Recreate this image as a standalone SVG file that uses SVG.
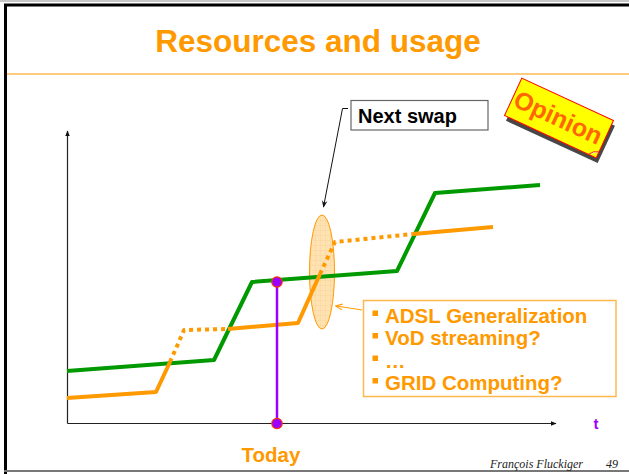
<svg xmlns="http://www.w3.org/2000/svg" width="629" height="474" viewBox="0 0 629 474">
  <defs>
    <style>
      .title { font-family: "Liberation Sans", Arial, sans-serif; font-weight: bold; font-size: 31.5px; fill: #FF9900; }
      .bold { font-family: "Liberation Sans", Arial, sans-serif; font-weight: bold; }
      .orange { fill: #FF9900; }
      .item { font-size: 20.5px; }
      .foot { font-family: "Liberation Serif", "Times New Roman", serif; font-style: italic; font-size: 12px; fill: #222; }
      .axis { stroke: #222; stroke-width: 1.2; fill: none; }
      .green { stroke: #009900; stroke-width: 4; fill: none; stroke-linejoin: round; }
      .usage { stroke: #FF9900; stroke-width: 4; fill: none; stroke-linejoin: round; }
      .dotted { stroke-dasharray: 4 4; }
      .dot { fill: #9900FF; stroke: #FF3300; stroke-width: 1.2; }
    </style>
    <marker id="axisHead" viewBox="0 0 10 10" refX="9" refY="5" markerWidth="6" markerHeight="6" orient="auto" markerUnits="userSpaceOnUse">
      <path d="M0,1 L10,5 L0,9 Z" fill="#111"/>
    </marker>
    <marker id="blackHead" viewBox="0 0 10 10" refX="9" refY="5" markerWidth="7" markerHeight="7" orient="auto" markerUnits="userSpaceOnUse">
      <path d="M0,1 L10,5 L0,9 L3,5 Z" fill="#111"/>
    </marker>
    <marker id="orangeHead" viewBox="0 0 10 10" refX="9" refY="5" markerWidth="7" markerHeight="7" orient="auto" markerUnits="userSpaceOnUse">
      <path d="M0,1 L10,5 L0,9" fill="none" stroke="#FF9900" stroke-width="1.5"/>
    </marker>
    <pattern id="grid" width="5" height="5" patternUnits="userSpaceOnUse">
      <rect width="5" height="5" fill="#FFE2B2"/>
      <path d="M0,0 H5 M0,0 V5" stroke="#F7C98C" stroke-width="0.6"/>
    </pattern>
  </defs>

  <!-- slide frame -->
  <rect width="629" height="474" fill="#FFFFFF"/>
  <line x1="0" y1="1" x2="629" y2="1" stroke="#C8C8C8" stroke-width="2"/>
  <path d="M5.5,474 V5 H629" fill="none" stroke="#000" stroke-width="3"/>
  <line x1="4" y1="471" x2="629" y2="471" stroke="#777" stroke-width="2"/>

  <!-- title -->
  <g id="title">
    <text class="title" x="318" y="52" text-anchor="middle">Resources and usage</text>
    <line x1="7" y1="74" x2="629" y2="74" stroke="#FF9900" stroke-width="1.2"/>
  </g>

  <!-- axes -->
  <g id="axes">
    <line class="axis" x1="67.5" y1="423.5" x2="67.5" y2="131" marker-end="url(#axisHead)"/>
    <line class="axis" x1="67.5" y1="423.5" x2="556" y2="423.5" marker-end="url(#axisHead)"/>
    <text class="bold" x="596" y="429" font-size="15" fill="#9900FF" text-anchor="middle">t</text>
  </g>

  <!-- highlighted swap zone -->
  <g id="swap-zone">
    <ellipse cx="322" cy="272" rx="12.5" ry="57" fill="url(#grid)" stroke="#FF9900" stroke-width="1"/>
  </g>

  <!-- resources curve -->
  <g id="resources">
    <polyline class="green" points="67,371 214,360 252,282 397,271 435,193 540,185"/>
  </g>

  <!-- usage curve -->
  <g id="usage">
    <polyline class="usage" points="67,398 156,392 170,362"/>
    <polyline class="usage dotted" points="170,362 184,330 228,329"/>
    <polyline class="usage" points="228,329 298,323 320,274"/>
    <polyline class="usage dotted" points="320,274 335,242 413,234"/>
    <polyline class="usage" points="413,234 493,227"/>
  </g>

  <!-- today marker -->
  <g id="today">
    <line x1="277" y1="282" x2="277" y2="423" stroke="#9900FF" stroke-width="2.5"/>
    <circle class="dot" cx="277" cy="282" r="5.2"/>
    <circle class="dot" cx="277" cy="423.5" r="5.2"/>
    <text class="bold orange" x="271" y="462" font-size="20.5" text-anchor="middle">Today</text>
  </g>

  <!-- next swap label -->
  <g id="next-swap">
    <rect x="351" y="100.5" width="137" height="29.5" fill="#FFFFFF" stroke="#666" stroke-width="1.2"/>
    <text class="bold" x="358" y="122.5" font-size="20" fill="#000">Next swap</text>
  </g>

  <!-- usage drivers box -->
  <g id="drivers">
    <rect x="363.5" y="300.5" width="252.5" height="96" fill="#FFFFFF" stroke="#FFB850" stroke-width="1.5"/>
    <g class="orange">
      <rect x="372.5" y="310.5" width="5.5" height="5.5"/>
      <rect x="372.5" y="333" width="5.5" height="5.5"/>
      <rect x="372.5" y="355.5" width="5.5" height="5.5"/>
      <rect x="372.5" y="378" width="5.5" height="5.5"/>
    </g>
    <g class="bold orange item">
      <text x="385" y="322.5">ADSL Generalization</text>
      <text x="385" y="345">VoD streaming?</text>
      <text x="385" y="367.5">…</text>
      <text x="385" y="390">GRID Computing?</text>
    </g>
  </g>

  <!-- opinion sticker -->
  <g id="opinion" transform="translate(559,118) rotate(24.8)">
    <rect x="-47" y="-16.5" width="101" height="41.2" fill="#333" opacity="0.9"/>
    <rect x="-50.5" y="-20.6" width="101" height="41.2" fill="#FFFF00" stroke="#FF0000" stroke-width="1"/>
    <path d="M42,20.6 Q45,15 50.5,14" fill="#FFFFFF" stroke="#FF0000" stroke-width="0.8"/>
    <text class="bold" x="-1" y="8.5" font-size="25" fill="#FF6600" text-anchor="middle">Opinion</text>
  </g>

  <!-- connectors -->
  <g id="connectors">
    <polyline points="348,108.5 342.5,108.5 323.5,207" fill="none" stroke="#111" stroke-width="1" marker-end="url(#blackHead)"/>
    <path d="M362,310 Q350,308 336,306" fill="none" stroke="#FF9900" stroke-width="1" marker-end="url(#orangeHead)"/>
  </g>

  <!-- footer -->
  <g id="footer">
    <text class="foot" x="490" y="468">François Fluckiger</text>
    <text class="foot" x="606" y="468">49</text>
  </g>
</svg>
